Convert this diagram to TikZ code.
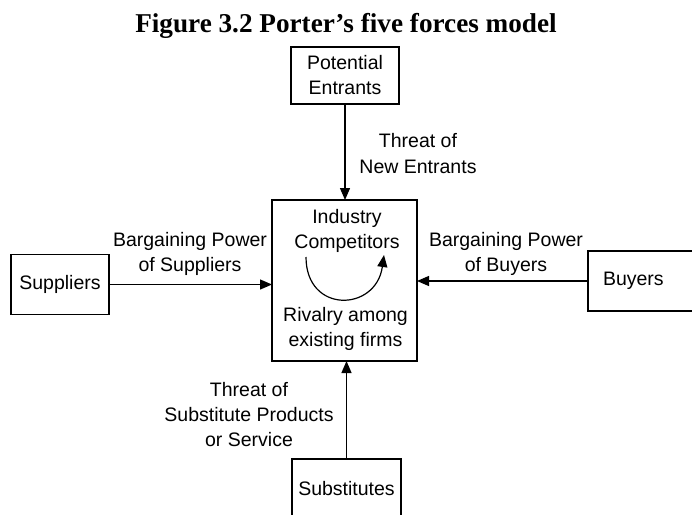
\documentclass[tikz,border=0pt]{standalone}
\usepackage{fontspec}
\setmainfont{Liberation Sans}
\newfontfamily\titlefont{Liberation Serif}
\usetikzlibrary{arrows.meta}
\begin{document}
\begin{tikzpicture}[x=1pt,y=-1pt,
  every node/.style={inner sep=0pt, outer sep=0pt},
  lbl/.style={font={\fontsize{19.5}{25}\selectfont}, align=center, anchor=north},
  box/.style={draw, line width=1.5pt, font={\fontsize{19.5}{25}\selectfont}, align=center},
  force/.style={line width=1.3pt, -{Triangle[length=12pt,width=10pt]}}]
\useasboundingbox (0,0) rectangle (692,514);
\clip (0,0) rectangle (692,514);
\fill[white] (0,0) rectangle (692,514);

% title
\node[anchor=base, font={\titlefont\bfseries\fontsize{27.2}{30}\selectfont}] (title) at (346,32)
  {Figure 3.2 Porter’s five forces model};

% the five boxes
\node[box, minimum width=145pt, minimum height=161pt] (ind) at (344.5,280.5) {};
\node[box, minimum width=108pt, minimum height=57pt] (pe) at (345,75.5) {Potential\\Entrants};
\node[box, minimum width=98pt, minimum height=60pt] (sup) at (60,284.5) {Suppliers};
\node[box, anchor=west, minimum height=60pt, text width=85pt, inner xsep=15pt, align=left] (buy) at (588,281) {Buyers};
\node[box, anchor=north, minimum width=109pt, minimum height=60pt] (sub) at (346.5,459) {Substitutes};

% text inside the industry box
\node[lbl] (indtop) at (347,209) {Industry\\Competitors};
\node[lbl] (indbot) at (345.5,307) {Rivalry among\\existing firms};

% force labels
\node[lbl, font={\fontsize{19.5}{26.5}\selectfont}] (lnew) at (418,133) {Threat of\\New Entrants};
\node[lbl] (lsup) at (190,232.7) {Bargaining Power\\of Suppliers};
\node[lbl] (lbuy) at (506,232.7) {Bargaining Power\\of Buyers};
\node[lbl] (lsub) at (249,382.7) {Threat of\\Substitute Products\\or Service};

% forces
\draw[force] (pe.south) -- (pe.south |- ind.north);
\draw[force] (sub.north) -- (sub.north |- ind.south);
\draw[force] (sup.east) -- (sup.east -| ind.west);
\draw[force] (buy.west) -- (buy.west -| ind.east);

% rivalry arc
\coordinate (rs) at (306,257);
\coordinate (re) at (384,255);
\draw[force, line width=1.2pt] (rs) .. controls (306,314) and (376,312) .. (re);
\end{tikzpicture}
\end{document}
